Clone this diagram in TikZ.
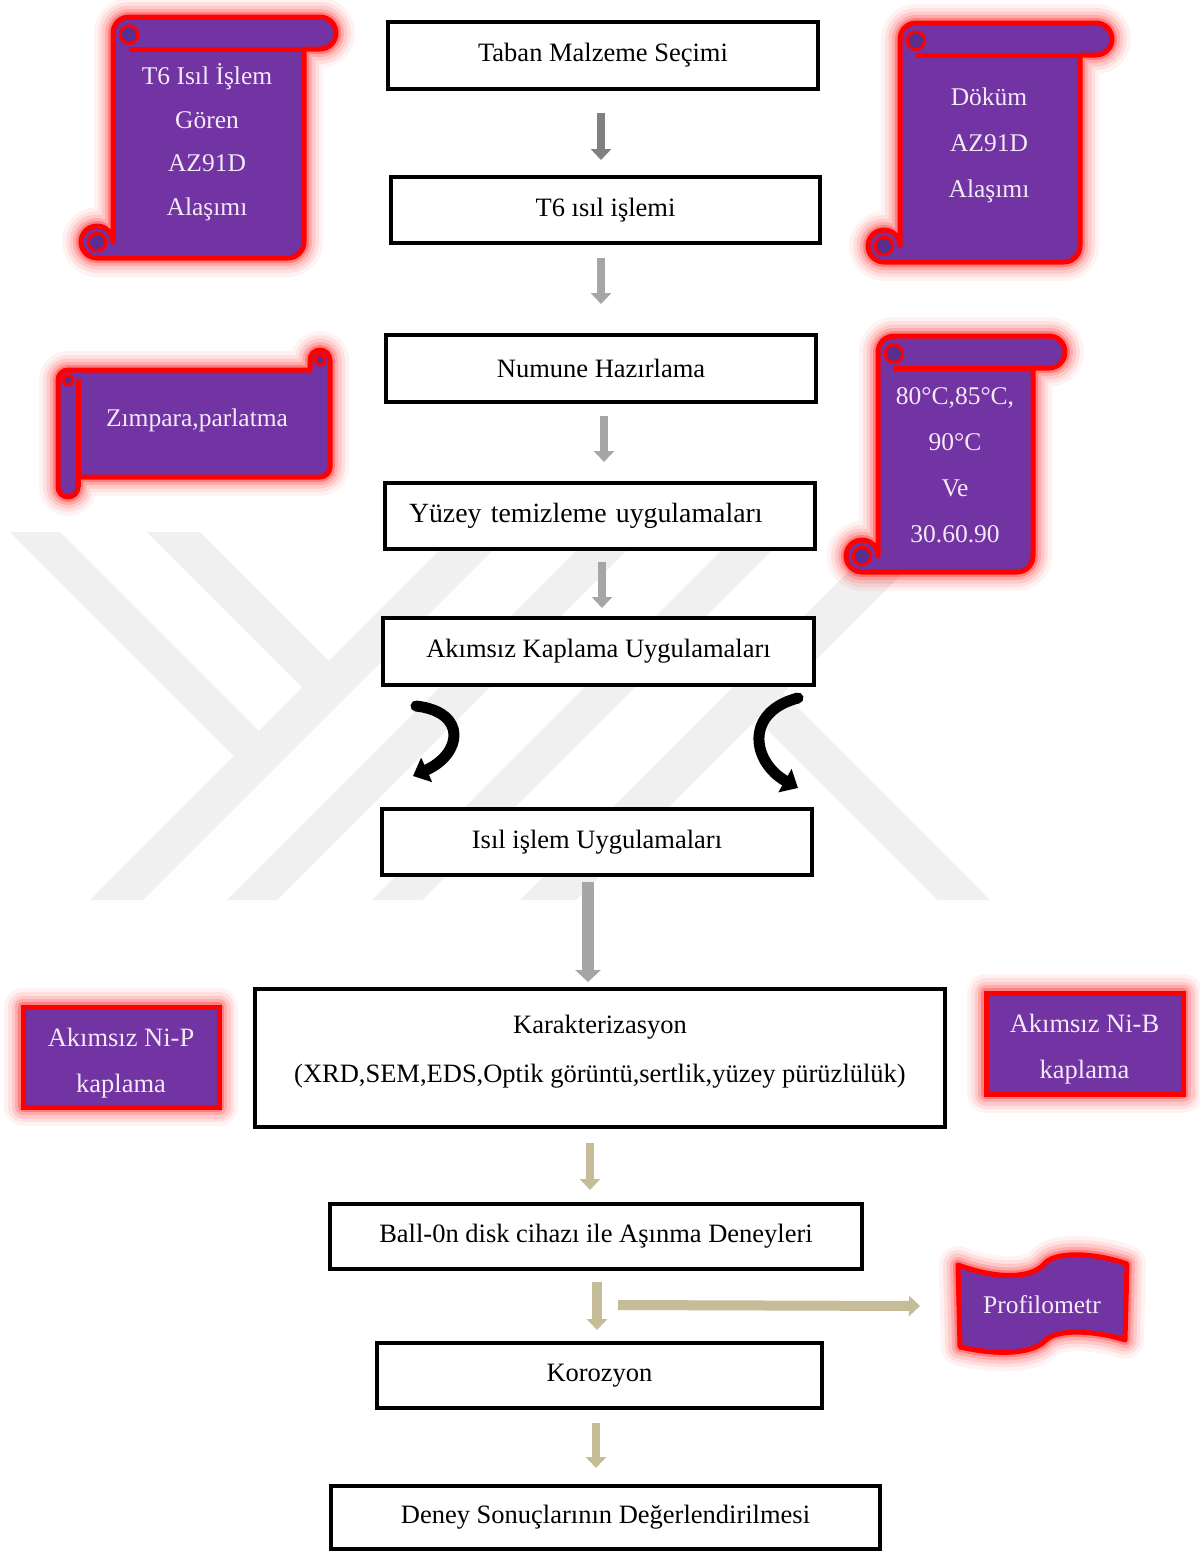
\documentclass[tikz,border=0pt]{standalone}
\usepackage{fontspec}
\setmainfont{Liberation Serif}
\usetikzlibrary{arrows.meta,calc}

\definecolor{scrollpurple}{HTML}{7233A3}
\definecolor{scrolldark}{HTML}{5A2E8E}
\definecolor{scrolltext}{HTML}{F3EAF7}
\definecolor{wmgray}{HTML}{F0F0F0}
\definecolor{arrowdark}{HTML}{808080}
\definecolor{arrowgray}{HTML}{A6A6A6}
\definecolor{arrowtan}{HTML}{C4BD97}

\tikzset{
  stepbox/.style={draw=black, line width=3.5pt, fill=white, minimum height=66pt,
    inner sep=0pt, outer sep=0pt, font=\fontsize{26.5}{32}\selectfont},
  scrolltxt/.style={text=scrolltext, align=center, inner sep=0pt,
    font=\fontsize{25.5}{45}\selectfont},
  redbox/.style={draw=red, line width=5pt, fill=scrollpurple, text=scrolltext,
    align=center, inner sep=0pt, font=\fontsize{26.5}{46}\selectfont},
  edgeR/.style={draw=red, line width=5pt, line join=round},
  curlR/.style={draw=red, line width=3pt, fill=scrolldark},
  flowarrow/.style={line width=8pt, -{Triangle[width=20pt,length=11pt]}},
  widearrow/.style={line width=12pt, -{Triangle[width=25pt,length=12pt]}},
  bentarrow/.style={draw=black, line width=11pt, line cap=round,
    -{Triangle[width=26pt,length=15pt]}},
  wm/.style={fill=wmgray}
}

% soft red halo, purple fill and red rim for a closed outline
\newcommand\glowpath[1]{%
  \foreach \gw/\go in {38/0.05,30/0.07,23/0.1,16/0.15,10/0.25}{%
    \draw[red, line width=\gw pt, opacity=\go, line join=round] #1;}%
  \fill[scrollpurple] #1;%
  \draw[edgeR] #1;}

% upright scroll: left, top, right, bottom, roll radius
\newcommand\vscroll[5]{%
  \glowpath{(#1+3*#5,#2) -- (#3-#5,#2) arc[start angle=270,end angle=450,radius=#5]
    -- (#3-2*#5,#2+2*#5) -- (#3-2*#5,#4-#5) arc[start angle=0,end angle=90,radius=#5]
    -- (#1+#5,#4) arc[start angle=90,end angle=360,radius=#5]
    -- (#1+2*#5,#2+#5) arc[start angle=180,end angle=270,radius=#5] -- cycle}%
  \draw[edgeR] (#1+3*#5,#2+2*#5) -- (#3-2*#5,#2+2*#5);
  \filldraw[curlR] (#1+3*#5,#2+1.1*#5) circle[radius=0.55*#5];
  \filldraw[curlR] (#1+#5,#4-#5) circle[radius=0.55*#5];}

% lying scroll: left, top, right, bottom, roll radius
\newcommand\hscroll[5]{%
  \glowpath{(#1,#2+3*#5) -- (#1,#4-#5) arc[start angle=180,end angle=0,radius=#5]
    -- (#1+2*#5,#4-2*#5) -- (#3-#5,#4-2*#5) arc[start angle=90,end angle=0,radius=#5]
    -- (#3,#2+#5) arc[start angle=0,end angle=-180,radius=#5]
    -- (#3-2*#5,#2+2*#5) -- (#1+#5,#2+2*#5) arc[start angle=-90,end angle=-180,radius=#5] -- cycle}%
  \draw[edgeR] (#1+2*#5,#2+3*#5) -- (#1+2*#5,#4-#5);
  \filldraw[curlR] (#1+#5,#2+3*#5) circle[radius=0.5*#5];
  \filldraw[curlR] (#3-#5,#2+#5) circle[radius=0.5*#5];}

\begin{document}
\begin{tikzpicture}[x=1pt,y=-1pt]
\useasboundingbox (0,0) rectangle (1200,1551);
\fill[white] (0,0) rectangle (1200,1551);

% background emblem
\fill[wm] (10,532) -- (60,532) -- (259,731) -- (234,756) -- cycle;
\fill[wm] (147,532) -- (200,532) -- (329,661) -- (302.5,687.5) -- cycle;
\fill[wm] (90,900) -- (143,900) -- (511,532) -- (458,532) -- cycle;
\fill[wm] (227,900) -- (277,900) -- (645,532) -- (595,532) -- cycle;
\fill[wm] (372,900) -- (422,900) -- (790,532) -- (740,532) -- cycle;
\fill[wm] (520,900) -- (576,900) -- (944,532) -- (888,532) -- cycle;
\fill[wm] (757,719) -- (783,693) -- (990,900) -- (938,900) -- cycle;

% scrolls
\vscroll{81}{17}{336}{258}{16}
\node[scrolltxt, font=\fontsize{25.5}{43.5}\selectfont] (s1) at (207,142) {T6 Isıl İşlem\\Gören\\AZ91D\\Alaşımı};
\vscroll{868}{23}{1112}{262}{16}
\node[scrolltxt, font=\fontsize{25.5}{46}\selectfont] (s2) at (989,145) {Döküm\\AZ91D\\Alaşımı};
\hscroll{58}{350}{330}{497}{10}
\node[scrolltxt] (s3) at (197,420) {Zımpara,parlatma};
\vscroll{846}{336}{1065}{572}{16}
\node[scrolltxt, font=\fontsize{25.5}{46}\selectfont] (s4) at (955,465) {80°C,85°C,\\90°C\\Ve\\30.60.90};

% coating boxes
\glowpath{(23,1007) rectangle (219,1107)}
\node[redbox, minimum width=196pt, minimum height=100pt] (nip) at (121,1057) {};
\node[text=scrolltext, align=center, font=\fontsize{26.5}{46}\selectfont] (nipt) at (121,1063) {Akımsız Ni-P\\kaplama};
\glowpath{(986,993) rectangle (1183,1094)}
\node[redbox, minimum width=197pt, minimum height=101pt] (nib) at (1084.5,1043.5) {};
\node[text=scrolltext, align=center, font=\fontsize{26.5}{46}\selectfont] (nibt) at (1084.5,1049.5) {Akımsız Ni-B\\kaplama};

% profilometer banner
\glowpath{(958,1265) .. controls (1005,1282) and (1035,1276) .. (1045,1263)
  .. controls (1058,1250) and (1100,1254) .. (1127,1264) -- (1125,1340)
  .. controls (1098,1331) and (1058,1328) .. (1046,1340)
  .. controls (1035,1352) and (1005,1357) .. (960,1347) -- cycle}
\node[scrolltxt] (prof) at (1042,1305) {Profilometr};

% process steps
\node[stepbox, minimum width=430pt, minimum height=67pt] (b1) at (603,55.5) {Taban Malzeme Seçimi};
\node[stepbox, minimum width=429pt] (b2) at (605.5,210) {T6 ısıl işlemi};
\node[stepbox, minimum width=430pt, minimum height=67pt] (b3) at (601,368.5) {Numune Hazırlama};
\node[stepbox, text width=382pt, align=left, inner xsep=24pt, font=\fontsize{27.8}{34}\selectfont] (b4) at (600,516) {Yüzey temizleme uygulamaları};
\node[stepbox, minimum width=431pt, minimum height=67pt] (b5) at (598.5,651.5) {Akımsız Kaplama Uygulamaları};
\node[stepbox, minimum width=430pt] (b6) at (597,842) {Isıl işlem Uygulamaları};
\node[stepbox, minimum width=690pt, minimum height=138pt] (b7) at (600,1058) {};
\node[align=center, font=\fontsize{26.5}{49}\selectfont] (b7t) at (600,1052) {Karakterizasyon\\(XRD,SEM,EDS,Optik görüntü,sertlik,yüzey pürüzlülük)};
\node[stepbox, minimum width=532pt, minimum height=65pt] (b8) at (596,1236.5) {Ball-0n disk cihazı ile Aşınma Deneyleri};
\node[stepbox, minimum width=445pt, minimum height=65pt] (b9) at (599.5,1375.5) {Korozyon};
\node[stepbox, minimum width=549pt, minimum height=63pt] (b10) at (605.5,1517.5) {Deney Sonuçlarının Değerlendirilmesi};

% arrows between steps
\draw[flowarrow, draw=arrowdark] ([xshift=-2pt,yshift=-24pt]b1.south) -- ([xshift=-4.5pt,yshift=17pt]b2.north);
\draw[flowarrow, draw=arrowgray] ([xshift=-4.5pt,yshift=-15pt]b2.south) -- ([yshift=31pt]b3.north);
\draw[flowarrow, draw=arrowgray] ([xshift=3pt,yshift=-14pt]b3.south) -- ([xshift=4pt,yshift=21pt]b4.north);
\draw[flowarrow, draw=arrowgray] ([xshift=2pt,yshift=-13pt]b4.south) -- ([xshift=3.5pt,yshift=10pt]b5.north);
\draw[widearrow, draw=arrowgray] ([xshift=-9pt,yshift=-7pt]b6.south) -- ([xshift=-12pt,yshift=7pt]b7.north);
\draw[flowarrow, draw=arrowtan] ([xshift=-10pt,yshift=-16pt]b7.south) -- ([xshift=-6pt,yshift=14pt]b8.north);
\draw[flowarrow, line width=10pt, draw=arrowtan] ([xshift=1pt,yshift=-13pt]b8.south) -- ([xshift=-2.5pt,yshift=13pt]b9.north);
\draw[flowarrow, draw=arrowtan] ([xshift=-3.5pt,yshift=-15pt]b9.south) -- ([xshift=-9.5pt,yshift=18pt]b10.north);
\draw[flowarrow, line width=10pt, draw=arrowtan] ([xshift=22pt,yshift=-36pt]b8.south) -- ([xshift=-122pt,yshift=-1pt]prof.center);

% bent arrows from coating to heat treatment
\coordinate (cl0) at (416,706);
\coordinate (cl1) at (413,776);
\draw[bentarrow] (cl0) .. controls (468,712) and (462,754) .. (cl1);
\coordinate (cr0) at (798,698);
\coordinate (cr1) at (798,788);
\draw[bentarrow] (cr0) .. controls (744,712) and (752,762) .. (cr1);
\end{tikzpicture}
\end{document}
